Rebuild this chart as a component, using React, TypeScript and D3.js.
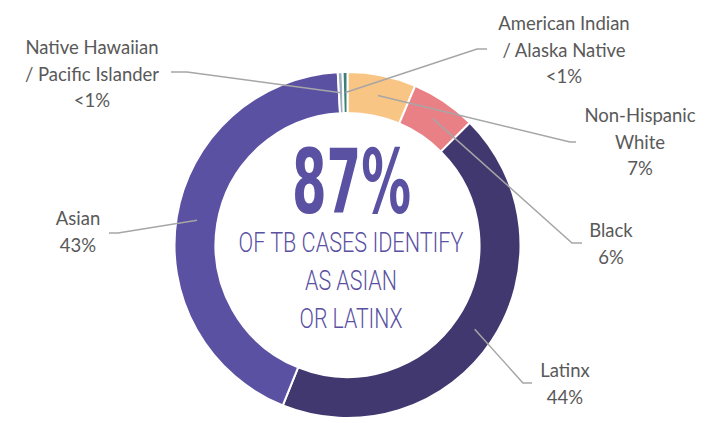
import React from "react";
import * as d3 from "d3";

const categories = [
  "Non-Hispanic White",
  "Black",
  "Latinx",
  "Asian",
  "Native Hawaiian / Pacific Islander",
  "American Indian / Alaska Native",
];
const values = [6.4, 6.1, 43.6, 43.0, 0.45, 0.45];
const percentLabels = ["7%", "6%", "44%", "43%", "<1%", "<1%"];
const labelLines = [
  ["Non-Hispanic", "White"],
  ["Black"],
  ["Latinx"],
  ["Asian"],
  ["Native Hawaiian", "/ Pacific Islander"],
  ["American Indian", "/ Alaska Native"],
];
const colors = ["#F8C585", "#E98086", "#423870", "#5B51A3", "#9DAEBD", "#3A7F79"];
const centerBig = "87%";
const centerLines = ["OF TB CASES IDENTIFY", "AS ASIAN", "OR LATINX"];

// layout (label anchor positions: text center x, first baseline, elbow, line end)
const labelLayout = [
  { tx: 640, ty: 122, elbow: [570, 142], end: [576, 142] },
  { tx: 611, ty: 237, elbow: [572, 243], end: [582, 243] },
  { tx: 565, ty: 377, elbow: [523, 383], end: [532, 383] },
  { tx: 78, ty: 225, elbow: [118, 233], end: [109, 233] },
  { tx: 92, ty: 54, elbow: [187, 72], end: [171, 72] },
  { tx: 564, ty: 30, elbow: [477, 49], end: [487, 49] },
];

const W = 719;
const H = 423;
const cx = 347.5;
const cy = 245;
const outerR = 173;
const innerR = 132;
const lineH = 26.5;

export default function App() {
  const pie = d3.pie<number>().sort(null).value((d) => d).startAngle(0).endAngle(2 * Math.PI);
  const arcs = pie(values);
  const arcGen = d3.arc<d3.PieArcDatum<number>>().innerRadius(innerR).outerRadius(outerR);
  const centroidArc = d3.arc<d3.PieArcDatum<number>>().innerRadius(innerR).outerRadius(outerR);

  return (
    <svg
      width={W}
      height={H}
      style={{ position: "absolute", left: 0, top: 0, background: "#fff" }}
    >
      <g transform={`translate(${cx},${cy})`}>
        {arcs.map((a, i) => (
          <path key={categories[i]} d={arcGen(a) || ""} fill={colors[i]} stroke="#fff" strokeWidth={2} />
        ))}
      </g>
      {arcs.map((a, i) => {
        const [x, y] = centroidArc.centroid(a);
        const L = labelLayout[i];
        const pts = [
          [cx + x, cy + y],
          L.elbow,
          L.end,
        ];
        return (
          <polyline
            key={"l" + i}
            points={pts.map((p) => p.join(",")).join(" ")}
            fill="none"
            stroke="#A6A6A6"
            strokeWidth={1.5}
          />
        );
      })}
      {labelLines.map((lines, i) => {
        const L = labelLayout[i];
        const all = [...lines, percentLabels[i]];
        return (
          <text
            key={"t" + i}
            textAnchor="middle"
            fontFamily="Lato, 'Open Sans', sans-serif"
            fontSize={18.5}
            fill="#595959"
          >
            {all.map((s, j) => (
              <tspan key={j} x={L.tx} y={L.ty + j * lineH}>
                {s}
              </tspan>
            ))}
          </text>
        );
      })}
      <text
        x={351.5}
        y={213}
        textAnchor="middle"
        fontFamily="'DejaVu Sans Condensed', 'DejaVu Sans', sans-serif"
        fontWeight="bold"
        fontSize={89}
        fill="#5B51A3"
        textLength={119}
        lengthAdjust="spacingAndGlyphs"
      >
        {centerBig}
      </text>
      {centerLines.map((s, j) => (
        <text
          key={"c" + j}
          x={351}
          y={252 + j * 38}
          textAnchor="middle"
          fontFamily="Roboto, sans-serif"
          fontWeight={300}
          fontSize={28}
          fill="#5B51A3"
          textLength={[225, 92, 103][j]}
          lengthAdjust="spacingAndGlyphs"
        >
          {s}
        </text>
      ))}
    </svg>
  );
}
